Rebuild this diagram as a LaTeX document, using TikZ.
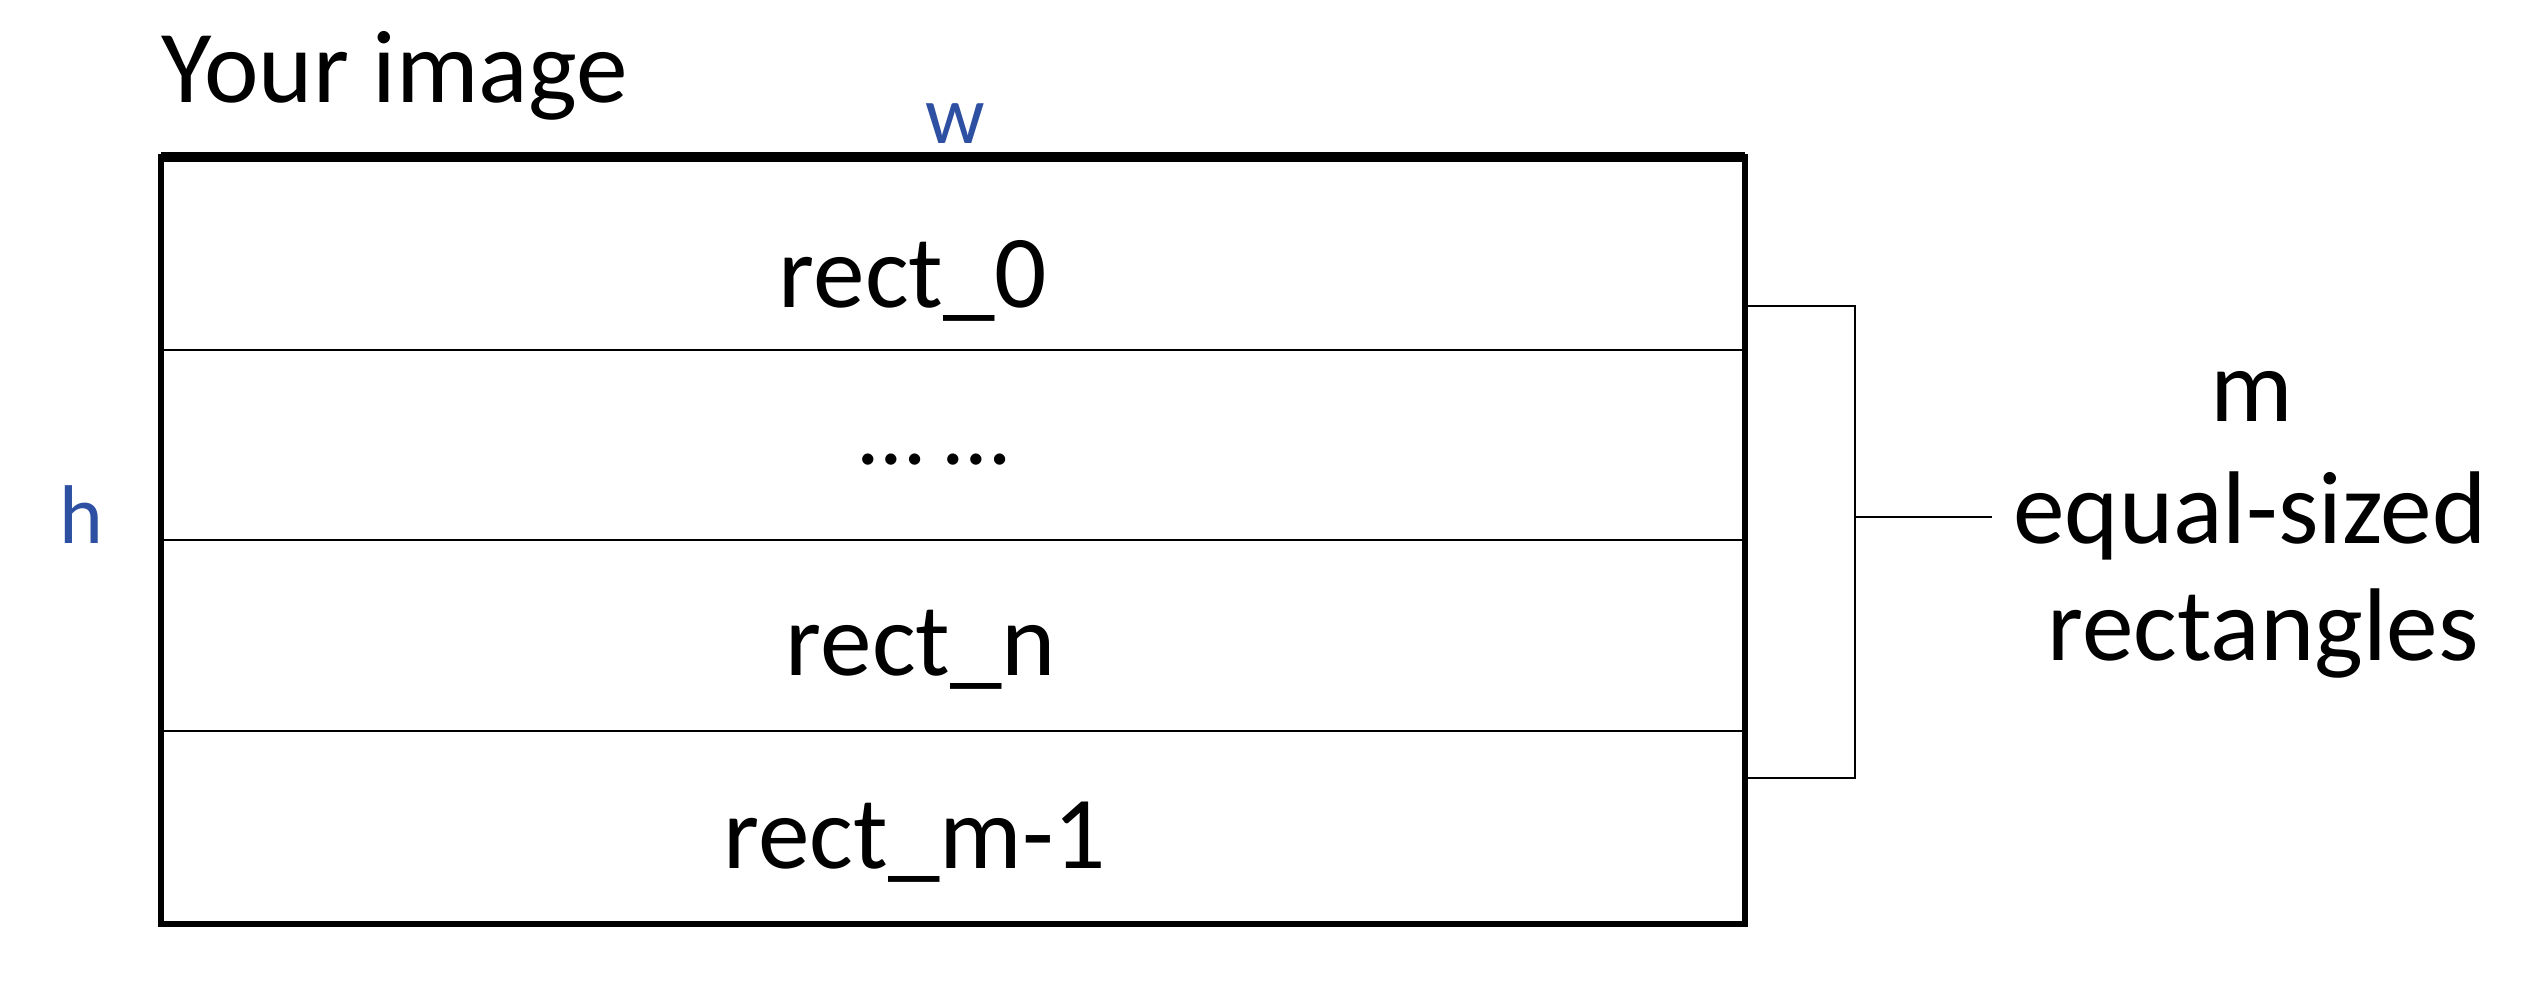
\documentclass[tikz,border=0pt]{standalone}
\usepackage{fontspec}
\setmainfont{Carlito}
\definecolor{lblue}{RGB}{46,80,162}
\begin{document}
\begin{tikzpicture}[x=0.3pt,y=-0.3pt,
  txt/.style={font=\fontsize{31}{36}\selectfont, inner sep=0pt, anchor=base},
  dotstxt/.style={font=\fontsize{28}{34}\selectfont, inner sep=0pt, anchor=base},
  lbl/.style={font=\fontsize{25}{30}\selectfont, text=lblue, inner sep=0pt, anchor=base},
  frameline/.style={line width=1.8pt},
  topline/.style={line width=2.8pt},
  divider/.style={line width=0.6pt},
  brk/.style={line width=0.6pt}]
\useasboundingbox[fill=white] (0,0) rectangle (2529,995);
% frame corners
\coordinate (tl) at (161,157);
\coordinate (tr) at (1745,157);
\coordinate (bl) at (161,924);
\coordinate (br) at (1745,924);
% dividers
\coordinate (d1l) at (161,350); \coordinate (d1r) at (1745,350);
\coordinate (d2l) at (161,540); \coordinate (d2r) at (1745,540);
\coordinate (d3l) at (161,731); \coordinate (d3r) at (1745,731);
\draw[divider] (d1l) -- (d1r);
\draw[divider] (d2l) -- (d2r);
\draw[divider] (d3l) -- (d3r);
\draw[frameline] (tl) rectangle (br);
\draw[topline] (tl) -- (tr);
% labels
\node[txt, anchor=base west] (title) at (161,102) {Your image};
\node[lbl] (w) at (955,143) {w};
\node[lbl] (h) at (81,543) {h};
\node[txt] (r0) at (913,307) {rect\_0};
\node[dotstxt] (dots) at (934,464) {… …};
\node[txt] (rn) at (921,675) {rect\_n};
\node[txt] (rm) at (915,868) {rect\_m-1};
% bracket
\coordinate (b1) at (1745,306);
\coordinate (b2) at (1855,306);
\coordinate (b3) at (1855,778);
\coordinate (b4) at (1745,778);
\coordinate (bm) at (1855,517);
\coordinate (be) at (1992,517);
\draw[brk] (b1) -- (b2) -- (b3) -- (b4);
\draw[brk] (bm) -- (be);
\node[txt] (m) at (2252,421) {m};
\node[txt] (eq) at (2250,543) {equal-sized};
\node[txt] (re) at (2263,660) {rectangles};
\end{tikzpicture}
\end{document}
